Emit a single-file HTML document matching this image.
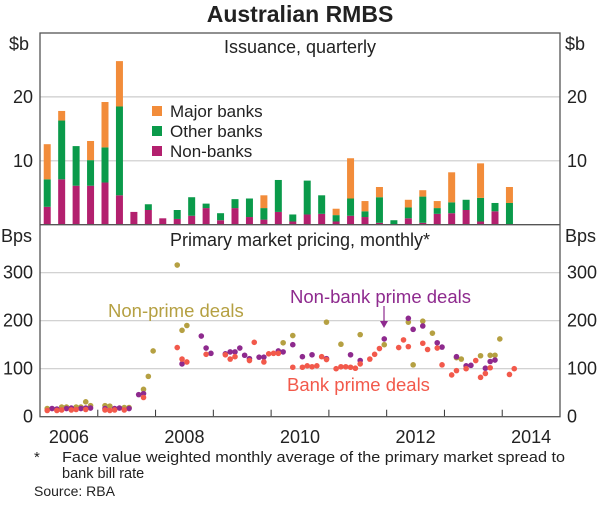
<!DOCTYPE html>
<html><head><meta charset="utf-8"><style>
body{margin:0;background:#fff}
svg text{font-family:"Liberation Sans",sans-serif;fill:#222}
</style></head><body>
<svg id="c" width="600" height="500" xmlns="http://www.w3.org/2000/svg"></svg>
<script>
const quarters=33;
const nonBanks=[2.8,7.1,6.1,6.1,6.6,4.6,2.0,2.3,1.0,0.9,1.4,2.6,0.7,2.6,1.2,0.8,2.0,0.5,1.6,1.7,0.5,1.4,1.2,0.3,0.1,1.0,0.3,1.7,1.8,2.3,0.5,2.1,0.1];
const otherBanks=[4.3,9.2,6.2,4.0,5.5,13.9,0,0.9,0,1.4,2.9,0.7,1.1,1.4,2.9,1.8,5.0,1.1,5.3,2.9,1.0,2.7,0.9,4.0,0.6,1.7,4.1,0.9,1.7,1.6,3.7,1.3,3.3];
const majorBanks=[5.5,1.5,0,3.0,7.1,7.1,0,0,0,0,0,0,0,0,0,2.0,0,0,0,0,1.0,6.3,1.6,1.6,0,1.2,1.0,1.1,4.7,0,5.4,0,2.5];
const topTicks=[10,20];
const botTicks=[100,200,300];
const yearLabels=[2006,2008,2010,2012,2014];
const npMonths=[1,4,5,7,8,9,10,13,14,17,18,21,22,23,28,29,30,50,52,59,62,66,71,76,77,79,81,86,87,91,93,94,95];
const npVals=[17,20,20,20,20,31,23,23,22,19,19,57,84,137,316,180,190,154,169,197,151,171,150,197,108,199,174,123,120,127,128,128,162];
const nbMonths=[2,3,5,6,8,9,10,13,15,16,18,20,21,29,33,34,35,38,39,40,41,42,43,45,46,49,50,52,54,56,59,64,66,71,76,77,79,82,83,86,88,89,92,93,94];
const nbVals=[17,16,17,18,17,18,18,17,17,18,17,46,48,110,168,143,132,131,135,135,143,128,121,124,124,137,135,150,125,129,121,129,117,162,205,182,189,154,145,125,106,107,101,115,118];
const bpMonths=[1,3,4,6,7,9,13,14,15,17,21,28,29,30,34,38,39,40,43,44,46,47,48,49,52,54,55,56,57,58,59,61,62,63,64,65,66,68,69,70,74,75,76,79,80,82,83,85,86,88,90,91,92,93,97,98];
const bpVals=[13,13,14,14,15,15,14,13,14,14,40,144,120,114,130,129,120,125,117,155,114,131,132,132,103,103,106,104,106,125,119,100,104,104,103,101,110,120,130,142,144,160,146,153,140,143,108,87,96,100,117,82,90,102,88,100];

const svg=document.getElementById('c');const NS='http://www.w3.org/2000/svg';
function mk(t,a,p){const e=document.createElementNS(NS,t);for(const k in a)e.setAttribute(k,a[k]);(p||svg).appendChild(e);return e;}
const L=40,R=560,T=33,MID=224.7,B=416.7;
const xq=q=>L+(q+0.5)*(R-L)/36, xm=m=>L+(m+0.5)*(R-L)/108, xy=y=>L+(y-2006)*(R-L)/9;
const yT=v=>MID-v*(MID-T)/30, yB=v=>B-v*(B-MID)/400;
function txt(s,x,y,o){const e=mk('text',Object.assign({x:x,y:y},o||{}));e.textContent=s;return e;}
let t=txt('Australian RMBS',300,22,{'text-anchor':'middle','font-size':'23','font-weight':'bold'});

topTicks.forEach(v=>{let g=mk('line',{x1:L,x2:R,y1:yT(v),y2:yT(v),stroke:'#ccc','stroke-width':1.2});
 let a=txt(v,33,yT(v)+6,{'text-anchor':'end','font-size':'18'});
 let b=txt(v,567,yT(v)+6,{'font-size':'18'});});
botTicks.concat([0]).forEach(v=>{if(v>0){let g=mk('line',{x1:L,x2:R,y1:yB(v),y2:yB(v),stroke:'#ccc','stroke-width':1.2});}
 let a=txt(v,33,yB(v)+6,{'text-anchor':'end','font-size':'18'});
 let b=txt(v,567,yB(v)+6,{'font-size':'18'});});
[['$b',9,50,'top-unit-left'],['$b',565,50,'top-unit-right'],['Bps',1,242,'bottom-unit-left'],['Bps',565,242,'bottom-unit-right']].forEach(u=>{let e=txt(u[0],u[1],u[2],{'font-size':'18'});});
for(let i=0;i<quarters;i++){const x=xq(i)-3.5;let base=0;
 [[nonBanks,'#B3206E','bar-non-banks'],[otherBanks,'#0A9A4A','bar-other-banks'],[majorBanks,'#F28C3A','bar-major-banks']].forEach(s=>{const v=s[0][i];if(v>0){let r=mk('rect',{x:x,y:yT(base+v),width:7,height:yT(base)-yT(base+v),fill:s[1]});}base+=v;});}
[['Major banks','#F28C3A',111],['Other banks','#0A9A4A',131],['Non-banks','#B3206E',151]].forEach((l,i)=>{let r=mk('rect',{x:152,y:l[2]-5,width:10,height:10,fill:l[1]});
 let e=txt(l[0],170,l[2]+6,{'font-size':'17'});});
let p1=txt('Issuance, quarterly',300,53,{'text-anchor':'middle','font-size':'18'});
let p2=txt('Primary market pricing, monthly*',300,246,{'text-anchor':'middle','font-size':'18'});
for(let y=2007;y<=2014;y++){let l=mk('line',{x1:xy(y),x2:xy(y),y1:B,y2:B-7,stroke:'#333','stroke-width':1});}
yearLabels.forEach(y=>{let e=txt(y,xy(y+0.5),443,{'text-anchor':'middle','font-size':'18'});});
[[npMonths,npVals,'#B5A042','non-prime-point'],[nbMonths,nbVals,'#8E2A8E','non-bank-prime-point'],[bpMonths,bpVals,'#F2594B','bank-prime-point']].forEach(s=>{s[0].forEach((m,i)=>{let c=mk('circle',{cx:xm(m),cy:yB(s[1][i]),r:2.8,fill:s[2]});});});
let a1=txt('Non-prime deals',108,317,{'font-size':'18.5',style:'fill:#B5A042'});
let a2=txt('Non-bank prime deals',290,303,{'font-size':'18.5',style:'fill:#8E2A8E'});
let ar=mk('line',{x1:384,x2:384,y1:306,y2:322,stroke:'#8E2A8E','stroke-width':1.2});
let ah=mk('polygon',{points:'380,321 388,321 384,328',fill:'#8E2A8E'});
let a3=txt('Bank prime deals',287,391,{'font-size':'18.5',style:'fill:#F2594B'});
let f=mk('rect',{x:L,y:T,width:R-L,height:B-T,fill:'none',stroke:'#555','stroke-width':1.3});
let d=mk('line',{x1:L,x2:R,y1:MID,y2:MID,stroke:'#555','stroke-width':1.3});
let n1=txt('*',34,462,{'font-size':'15'});
let n2=txt('Face value weighted monthly average of the primary market spread to',62,462,{'font-size':'14.5',textLength:'503',lengthAdjust:'spacingAndGlyphs'});
let n3=txt('bank bill rate',62,478,{'font-size':'14.5'});
let n4=txt('Source: RBA',34,496,{'font-size':'14'});
</script>
</body></html>
